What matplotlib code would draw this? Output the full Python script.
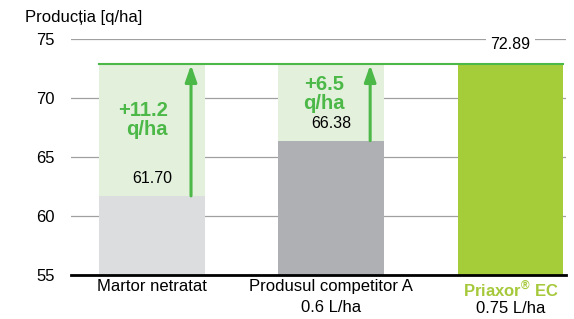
import numpy as np
import matplotlib.pyplot as plt

plt.rcParams['font.family'] = ['Liberation Sans', 'DejaVu Sans']
plt.rcParams['mathtext.fontset'] = 'custom'
plt.rcParams['mathtext.rm'] = 'Liberation Sans'
plt.rcParams['mathtext.bf'] = 'Liberation Sans:bold'

categories = ["Martor netratat", "Produsul competitor A\n0.6 L/ha", ""]
brand = r"Priaxor$^{\mathbf{®}}$ EC"
brand_dose = "0.75 L/ha"
values = [61.70, 66.38, 72.89]
value_labels = ["61.70", "66.38", "72.89"]
gains = ["+11.2\nq/ha", "+6.5\nq/ha"]
yticks = [55, 60, 65, 70, 75]

bar_colors = ["#dcdddf", "#aeb0b3", "#a5cc39"]
green = "#4cb848"
shade = "#e3f0dc"

fig = plt.figure(figsize=(5.74, 3.19), dpi=100)
ax = fig.add_axes([0.124, 0.138, 0.862, 0.740])

x = np.arange(len(values))
w = 0.59
best = values[-1]

# shaded gain area above the first two bars
for i in range(2):
    ax.bar(x[i], best - values[i], bottom=values[i], width=w, color=shade, zorder=2)
ax.bar(x, np.array(values) - 55, bottom=55, width=w, color=bar_colors, zorder=3)

# reference line at best value
ax.plot([x[0] - w / 2, x[-1] + w / 2], [best, best], color=green, lw=1.5, zorder=4)

# arrows
for i in range(2):
    ax.annotate("", xy=(x[i] + 0.217, best - 0.1), xytext=(x[i] + 0.217, values[i]),
                arrowprops=dict(arrowstyle="-|>,head_width=0.35,head_length=1.0",
                                color=green, lw=2.2, shrinkA=0, shrinkB=0), zorder=5)

# gain texts
ax.text(x[0] - 0.053, 68.1, gains[0], ha="center", va="center", color=green,
        fontsize=14.5, fontweight="bold", linespacing=1.0, multialignment="right", zorder=6)
ax.text(x[1] - 0.04, 70.3, gains[1], ha="center", va="center", color=green,
        fontsize=14.5, fontweight="bold", linespacing=1.0, zorder=6)

# value labels
ax.text(x[0], 63.2, value_labels[0], ha="center", va="center", fontsize=11.5, zorder=6)
ax.text(x[1], 67.8, value_labels[1], ha="center", va="center", fontsize=11.5, zorder=6)
ax.text(x[2], 74.5, value_labels[2], ha="center", va="center", fontsize=11.5, zorder=6,
        bbox=dict(facecolor="white", edgecolor="none", pad=3))

ax.set_ylim(55, 75)
ax.set_xlim(-0.452, 2.31)
ax.set_yticks(yticks)
ax.yaxis.grid(True, color="#a0a0a0", lw=0.9, zorder=1)
ax.set_axisbelow(True)
ax.tick_params(axis="y", length=0, labelsize=12, pad=12)
ax.tick_params(axis="x", length=0, labelsize=12, pad=3)
ax.set_xticks(x)
ax.set_xticklabels(categories, linespacing=1.45)
for s in ["left", "right", "top"]:
    ax.spines[s].set_visible(False)
ax.spines["bottom"].set_linewidth(2)
ax.spines["bottom"].set_zorder(7)

# third category label: coloured brand name and dose
ax.annotate(brand, xy=(x[2], 55), xytext=(0, -3),
            textcoords="offset points", ha="center", va="top",
            color="#a5c93a", fontsize=12, fontweight="bold")
ax.annotate(brand_dose, xy=(x[2], 55), xytext=(0, -19),
            textcoords="offset points", ha="center", va="top", fontsize=12)

fig.text(0.044, 0.945, "Producția [q/ha]", fontsize=12, ha="left", va="center")

fig.savefig("out.png", dpi=100)
